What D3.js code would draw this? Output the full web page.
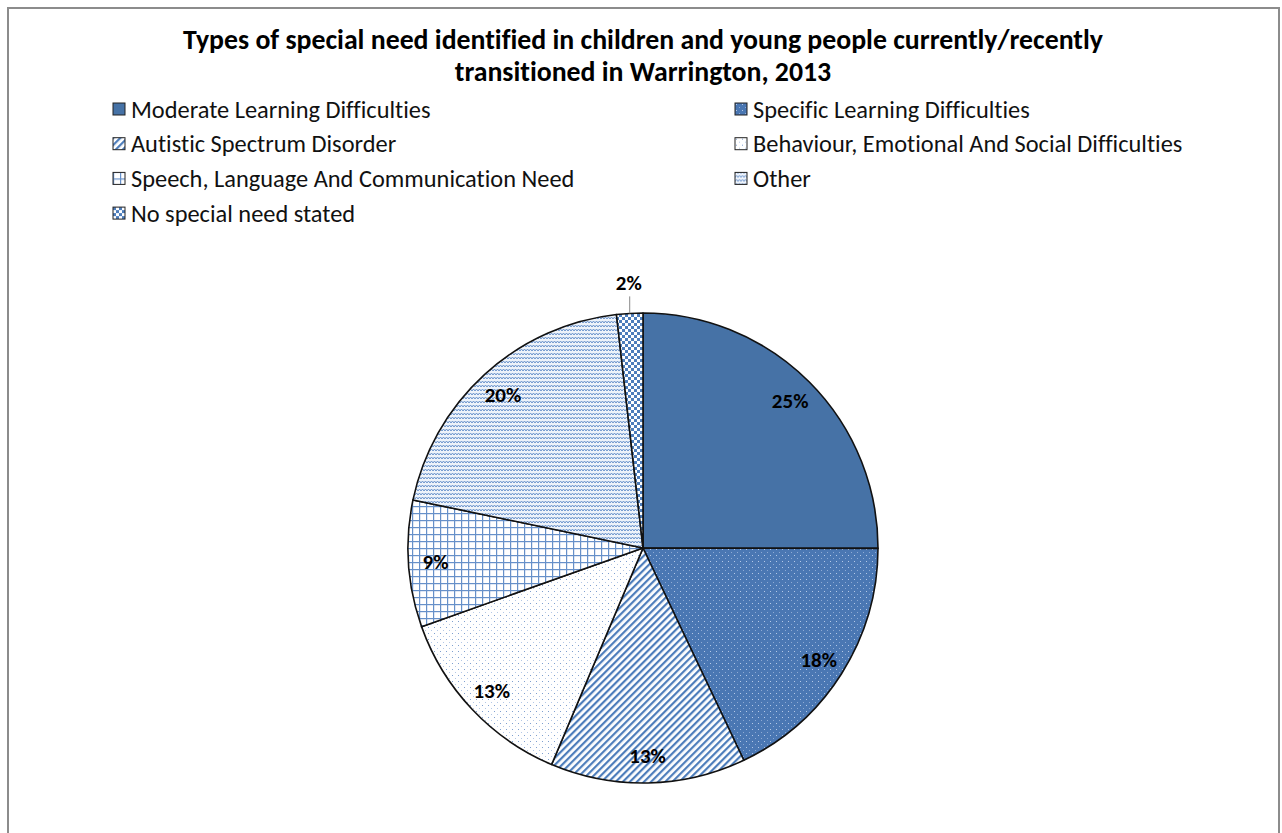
<!DOCTYPE html>
<meta charset="utf-8">
<style>
    html, body { margin: 0; padding: 0; background: #fff; }
    text {
        font-family: Carlito, Calibri, "Open Sans", sans-serif;
        font-variant-ligatures: none;
        font-feature-settings: "liga" 0, "clig" 0, "calt" 0, "dlig" 0;
    }
</style>
<script src="https://d3js.org/d3.v7.min.js"></script>

<div id="chart"></div>

<script>

    // data
    const categories = [
        "Moderate Learning Difficulties",
        "Specific Learning Difficulties",
        "Autistic Spectrum Disorder",
        "Behaviour, Emotional And Social Difficulties",
        "Speech, Language And Communication Need",
        "Other",
        "No special need stated"
    ];
    const values = [25.0, 17.9, 13.4, 13.2, 8.7, 19.9, 1.8];
    const patterns = ["solid", "smalldots", "stripes", "sparsedots", "grid", "zigzag", "checker"];
    const titleLines = [
        "Types of special need identified in children and young people currently/recently",
        "transitioned in Warrington, 2013"
    ];

    const W = 1282, H = 833;
    const blue = "#4672a6";
    const cx = 643, cy = 548, radius = 235;

    const svg = d3.select("#chart")
      .append("svg")
        .attr("width", W)
        .attr("height", H);

    // frame
    svg.append("rect")
        .attr("x", 8).attr("y", 8)
        .attr("width", 1271).attr("height", 840)
        .attr("fill", "#fff")
        .attr("stroke", "#8c8c8c")
        .attr("stroke-width", 2);

    // pattern fills
    const defs = svg.append("defs");

    let p = defs.append("pattern").attr("id", "smalldots")
        .attr("patternUnits", "userSpaceOnUse").attr("width", 6).attr("height", 6);
    p.append("rect").attr("width", 6).attr("height", 6).attr("fill", "#4a77b3");
    p.append("rect").attr("x", 1).attr("y", 1).attr("width", 1).attr("height", 1).attr("fill", "#b5c9e6");
    p.append("rect").attr("x", 4).attr("y", 4).attr("width", 1).attr("height", 1).attr("fill", "#8eaad4");

    p = defs.append("pattern").attr("id", "stripes")
        .attr("patternUnits", "userSpaceOnUse").attr("width", 5).attr("height", 5)
        .attr("patternTransform", "rotate(45)");
    p.append("rect").attr("width", 5).attr("height", 5).attr("fill", "#fff");
    p.append("rect").attr("width", 2.2).attr("height", 5).attr("fill", "#4d7dbb");

    p = defs.append("pattern").attr("id", "sparsedots")
        .attr("patternUnits", "userSpaceOnUse").attr("width", 6).attr("height", 6);
    p.append("rect").attr("width", 6).attr("height", 6).attr("fill", "#fff");
    p.append("rect").attr("x", 1).attr("y", 1).attr("width", 1).attr("height", 1).attr("fill", "#7fa0d0");
    p.append("rect").attr("x", 4).attr("y", 4).attr("width", 1).attr("height", 1).attr("fill", "#b3c8e6");

    p = defs.append("pattern").attr("id", "grid")
        .attr("patternUnits", "userSpaceOnUse").attr("width", 7).attr("height", 7);
    p.append("rect").attr("width", 7).attr("height", 7).attr("fill", "#fff");
    p.append("rect").attr("x", 0).attr("y", 0).attr("width", 7).attr("height", 1.2).attr("fill", "#6690c9");
    p.append("rect").attr("x", 0).attr("y", 0).attr("width", 1.2).attr("height", 7).attr("fill", "#6690c9");

    p = defs.append("pattern").attr("id", "zigzag")
        .attr("patternUnits", "userSpaceOnUse").attr("width", 6).attr("height", 4);
    p.append("rect").attr("width", 6).attr("height", 4).attr("fill", "#eef3fa");
    p.append("path").attr("d", "M0,3 L1.5,1 L3,3 L4.5,1 L6,3")
        .attr("fill", "none").attr("stroke", "#6a93cc").attr("stroke-width", 1);

    p = defs.append("pattern").attr("id", "checker")
        .attr("patternUnits", "userSpaceOnUse").attr("width", 6).attr("height", 6);
    p.append("rect").attr("width", 6).attr("height", 6).attr("fill", "#fff");
    p.append("rect").attr("width", 3).attr("height", 3).attr("fill", "#4d7dbb");
    p.append("rect").attr("x", 3).attr("y", 3).attr("width", 3).attr("height", 3).attr("fill", "#4d7dbb");

    const fillFor = k => k === "solid" ? blue : `url(#${k})`;

    // title
    svg.append("g").selectAll("text")
      .data(titleLines)
      .join("text")
        .attr("x", 643)
        .attr("y", (d, i) => 49 + i * 32)
        .attr("text-anchor", "middle")
        .style("font-size", "27.8px")
        .style("font-weight", "bold")
        .text(d => d);

    // legend
    const legend = svg.append("g").selectAll("g")
      .data(categories)
      .join("g")
        .attr("transform", (d, i) => `translate(${i % 2 ? 735 : 113}, ${109 + Math.floor(i / 2) * 34.7})`);
    legend.append("rect")
        .attr("x", 0).attr("y", -6)
        .attr("width", 12).attr("height", 12)
        .attr("fill", (d, i) => fillFor(patterns[i]))
        .attr("stroke", "#222").attr("stroke-width", 1);
    legend.append("text")
        .attr("x", 18).attr("y", 0)
        .attr("dy", "0.35em")
        .style("font-size", "24.4px")
        .attr("fill", "#111")
        .text(d => d);

    // pie
    const pie = d3.pie().sort(null).value(d => d);
    const arcs = pie(values);
    const arc = d3.arc().innerRadius(0).outerRadius(radius);
    const labelArc = d3.arc().innerRadius(radius * 0.885).outerRadius(radius * 0.885);

    const g = svg.append("g").attr("transform", `translate(${cx},${cy})`);
    g.selectAll("path")
      .data(arcs)
      .join("path")
        .attr("d", arc)
        .attr("fill", (d, i) => fillFor(patterns[i]))
        .attr("stroke", "#111")
        .attr("stroke-width", 1.6)
        .attr("stroke-linejoin", "round");

    const pct = v => Math.round(v) + "%";

    // labels inside, except the tiny slice which goes outside with a leader
    arcs.forEach((d, i) => {
        const mid = (d.startAngle + d.endAngle) / 2;
        if (d.endAngle - d.startAngle < 0.2) {
            const x0 = Math.sin(mid) * radius, y0 = -Math.cos(mid) * radius;
            g.append("line")
                .attr("x1", x0).attr("y1", y0)
                .attr("x2", x0).attr("y2", y0 - 17)
                .attr("stroke", "#888").attr("stroke-width", 1);
            g.append("text")
                .attr("x", x0 - 1).attr("y", y0 - 31)
                .attr("dy", "0.35em")
                .attr("text-anchor", "middle")
                .style("font-size", "21px").style("font-weight", "bold")
                .text(pct(values[i]));
        } else {
            const c = labelArc.centroid(d);
            g.append("text")
                .attr("x", c[0]).attr("y", c[1])
                .attr("dy", "0.35em")
                .attr("text-anchor", "middle")
                .style("font-size", "21px").style("font-weight", "bold")
                .text(pct(values[i]));
        }
    });

</script>
